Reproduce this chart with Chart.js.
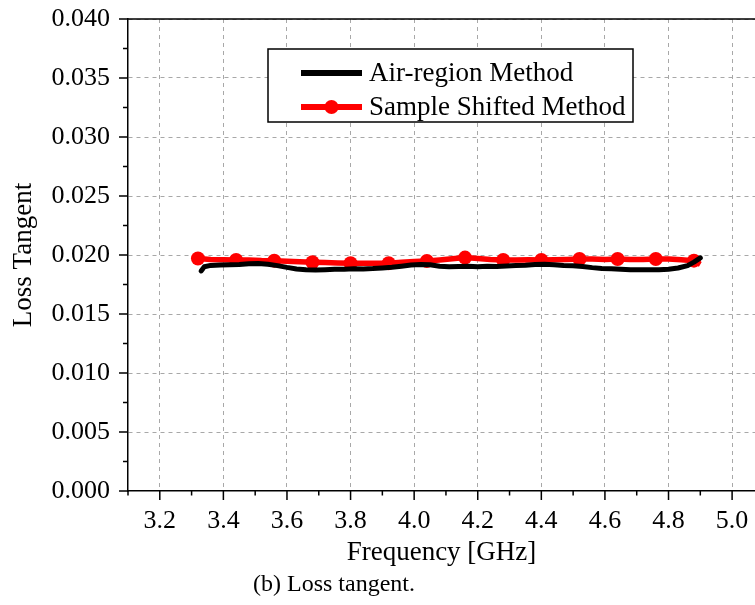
<!DOCTYPE html>
<html>
<head>
<meta charset="utf-8">
<script src="https://cdn.jsdelivr.net/npm/chart.js@4/dist/chart.umd.min.js"></script>
<style>
  html, body { margin: 0; padding: 0; background: #fff; overflow: hidden; }
  #wrap { position: relative; width: 755px; height: 605px; }
  #lossChart { display: block; }
  #caption {
    position: absolute; left: 0; top: 570px; width: 668px;
    text-align: center; font: 24px "Liberation Serif", serif; color: #000;
  }
</style>
</head>
<body>
<div id="wrap">
  <canvas id="lossChart" width="755" height="605"></canvas>
  <div id="caption">(b) Loss tangent.</div>
</div>
<script>
// ---------- data ----------
const airFreq = [3.33,3.34,3.36,3.39,3.42,3.45,3.48,3.51,3.54,3.57,3.60,3.63,3.66,3.69,3.72,3.75,3.78,3.81,3.84,3.87,3.90,3.93,3.96,3.99,4.02,4.05,4.08,4.11,4.14,4.17,4.20,4.23,4.26,4.29,4.32,4.35,4.38,4.41,4.44,4.47,4.50,4.53,4.56,4.59,4.62,4.65,4.68,4.71,4.74,4.77,4.80,4.83,4.86,4.88,4.90];
const airLoss = [0.01865,0.01900,0.01912,0.01915,0.01918,0.01920,0.01925,0.01928,0.01922,0.01910,0.01895,0.01882,0.01875,0.01872,0.01876,0.01880,0.01880,0.01884,0.01882,0.01885,0.01890,0.01896,0.01905,0.01915,0.01920,0.01918,0.01905,0.01900,0.01902,0.01905,0.01900,0.01904,0.01902,0.01906,0.01910,0.01914,0.01920,0.01922,0.01918,0.01912,0.01908,0.01902,0.01893,0.01886,0.01884,0.01880,0.01875,0.01876,0.01874,0.01876,0.01880,0.01890,0.01910,0.01940,0.01975];

const shiftFreq = [3.32,3.36,3.40,3.44,3.48,3.52,3.56,3.60,3.64,3.68,3.72,3.76,3.80,3.84,3.88,3.92,3.96,4.00,4.04,4.08,4.12,4.16,4.20,4.24,4.28,4.32,4.36,4.40,4.44,4.48,4.52,4.56,4.60,4.64,4.68,4.72,4.76,4.80,4.84,4.88,4.90];
const shiftLoss = [0.0197,0.01962,0.01960,0.01958,0.01957,0.01953,0.01952,0.01948,0.01942,0.01938,0.01936,0.01932,0.01930,0.01930,0.01930,0.01931,0.01938,0.01945,0.01949,0.01958,0.01968,0.01978,0.01970,0.01962,0.01958,0.01958,0.01960,0.01958,0.01960,0.01962,0.01966,0.01966,0.01962,0.01966,0.01962,0.01962,0.01966,0.01966,0.01960,0.01952,0.01920];

const seriesNames = ['Air-region Method', 'Sample Shifted Method'];
const xTickValues = [3.1,3.2,3.3,3.4,3.5,3.6,3.7,3.8,3.9,4.0,4.1,4.2,4.3,4.4,4.5,4.6,4.7,4.8,4.9,5.0];
const yTickValues = [0,0.0025,0.005,0.0075,0.01,0.0125,0.015,0.0175,0.02,0.0225,0.025,0.0275,0.03,0.0325,0.035,0.0375,0.04];

const serif = '"Liberation Serif", "Times New Roman", serif';
const isMajorX = v => Math.round(v * 10) % 2 === 0;
const isMajorY = v => Math.round(v * 10000) % 50 === 0;

// tick marks, top frame line and legend box
const frame = {
  id: 'frame',
  afterDraw(chart) {
    const ctx = chart.ctx, a = chart.chartArea;
    const xs = chart.scales.x, ys = chart.scales.y;
    ctx.save();
    ctx.strokeStyle = '#000';
    ctx.lineWidth = 1.5;
    ctx.beginPath();
    ctx.moveTo(a.left, a.top);
    ctx.lineTo(a.right, a.top);
    xs.ticks.forEach(t => {
      const px = xs.getPixelForValue(t.value);
      ctx.moveTo(px, a.bottom);
      ctx.lineTo(px, a.bottom + (isMajorX(t.value) ? 9 : 4.5));
    });
    ys.ticks.forEach(t => {
      const py = ys.getPixelForValue(t.value);
      ctx.moveTo(a.left, py);
      ctx.lineTo(a.left - (isMajorY(t.value) ? 9 : 5), py);
    });
    ctx.stroke();

    // legend
    const bx = 268, by = 49, bw = 365, bh = 73;
    ctx.fillStyle = '#fff';
    ctx.fillRect(bx, by, bw, bh);
    ctx.lineWidth = 1.5;
    ctx.strokeRect(bx, by, bw, bh);
    ctx.font = '27px ' + serif;
    ctx.textBaseline = 'middle';
    chart.data.datasets.forEach((ds, i) => {
      const yy = 73 + i * 34;
      ctx.strokeStyle = ds.borderColor;
      ctx.lineWidth = 6;
      ctx.beginPath();
      ctx.moveTo(301, yy);
      ctx.lineTo(362, yy);
      ctx.stroke();
      if (i === 1) {
        ctx.fillStyle = ds.borderColor;
        ctx.beginPath();
        ctx.arc(331.5, yy, 7, 0, Math.PI * 2);
        ctx.fill();
      }
      ctx.fillStyle = '#000';
      ctx.fillText(ds.label, 369, yy + 1);
    });
    ctx.restore();
  }
};

new Chart(document.getElementById('lossChart'), {
  type: 'line',
  data: {
    datasets: [
      {
        label: seriesNames[0],
        data: airFreq.map((f, i) => ({x: f, y: airLoss[i]})),
        borderColor: '#000000',
        borderWidth: 5,
        pointRadius: 0,
        tension: 0,
        borderJoinStyle: 'round',
        borderCapStyle: 'round'
      },
      {
        label: seriesNames[1],
        data: shiftFreq.map((f, i) => ({x: f, y: shiftLoss[i]})),
        borderColor: '#ff0000',
        backgroundColor: '#ff0000',
        borderWidth: 5.5,
        pointRadius: c => (c.dataIndex % 3 === 0 && c.dataIndex <= 39) ? 7 : 0,
        pointBorderWidth: 0,
        tension: 0,
        borderJoinStyle: 'round'
      }
    ]
  },
  options: {
    responsive: false,
    animation: false,
    layout: { autoPadding: false, padding: { top: 19, right: 0, left: 0, bottom: 0 } },
    plugins: { legend: { display: false }, tooltip: { enabled: false } },
    scales: {
      x: {
        type: 'linear',
        min: 3.1,
        max: 5.072,
        afterBuildTicks: s => { s.ticks = xTickValues.map(v => ({value: v})); },
        afterFit: s => { s.height = 114; s.paddingLeft = 0; s.paddingRight = 0; },
        ticks: {
          autoSkip: false,
          maxRotation: 0,
          padding: 15,
          color: '#000',
          font: { family: serif, size: 26 },
          callback: v => isMajorX(v) ? v.toFixed(1) : ''
        },
        grid: {
          drawTicks: false,
          lineWidth: 1,
          color: c => (c.tick && isMajorX(c.tick.value) && c.tick.value > 3.15) ? '#a8a8a8' : 'rgba(0,0,0,0)'
        },
        border: { display: true, color: '#000', width: 1.5, dash: [4, 4] },
        title: {
          display: true,
          text: 'Frequency [GHz]',
          color: '#000',
          font: { family: serif, size: 27 },
          padding: { top: 0, bottom: 36 }
        }
      },
      y: {
        min: 0,
        max: 0.04,
        afterBuildTicks: s => { s.ticks = yTickValues.map(v => ({value: v})); },
        afterFit: s => { s.width = 128; s.paddingTop = 0; s.paddingBottom = 0; },
        ticks: {
          autoSkip: false,
          padding: 18,
          color: '#000',
          font: { family: serif, size: 26 },
          callback: v => isMajorY(v) ? v.toFixed(3) : ''
        },
        grid: {
          drawTicks: false,
          lineWidth: 1,
          color: c => (c.tick && isMajorY(c.tick.value) && c.tick.value > 0.001) ? '#a8a8a8' : 'rgba(0,0,0,0)'
        },
        border: { display: true, color: '#000', width: 1.5, dash: [4, 4] },
        title: {
          display: true,
          text: 'Loss Tangent',
          color: '#000',
          font: { family: serif, size: 27 },
          padding: { top: 8, bottom: 0 }
        }
      }
    }
  },
  plugins: [frame]
});
</script>
</body>
</html>
